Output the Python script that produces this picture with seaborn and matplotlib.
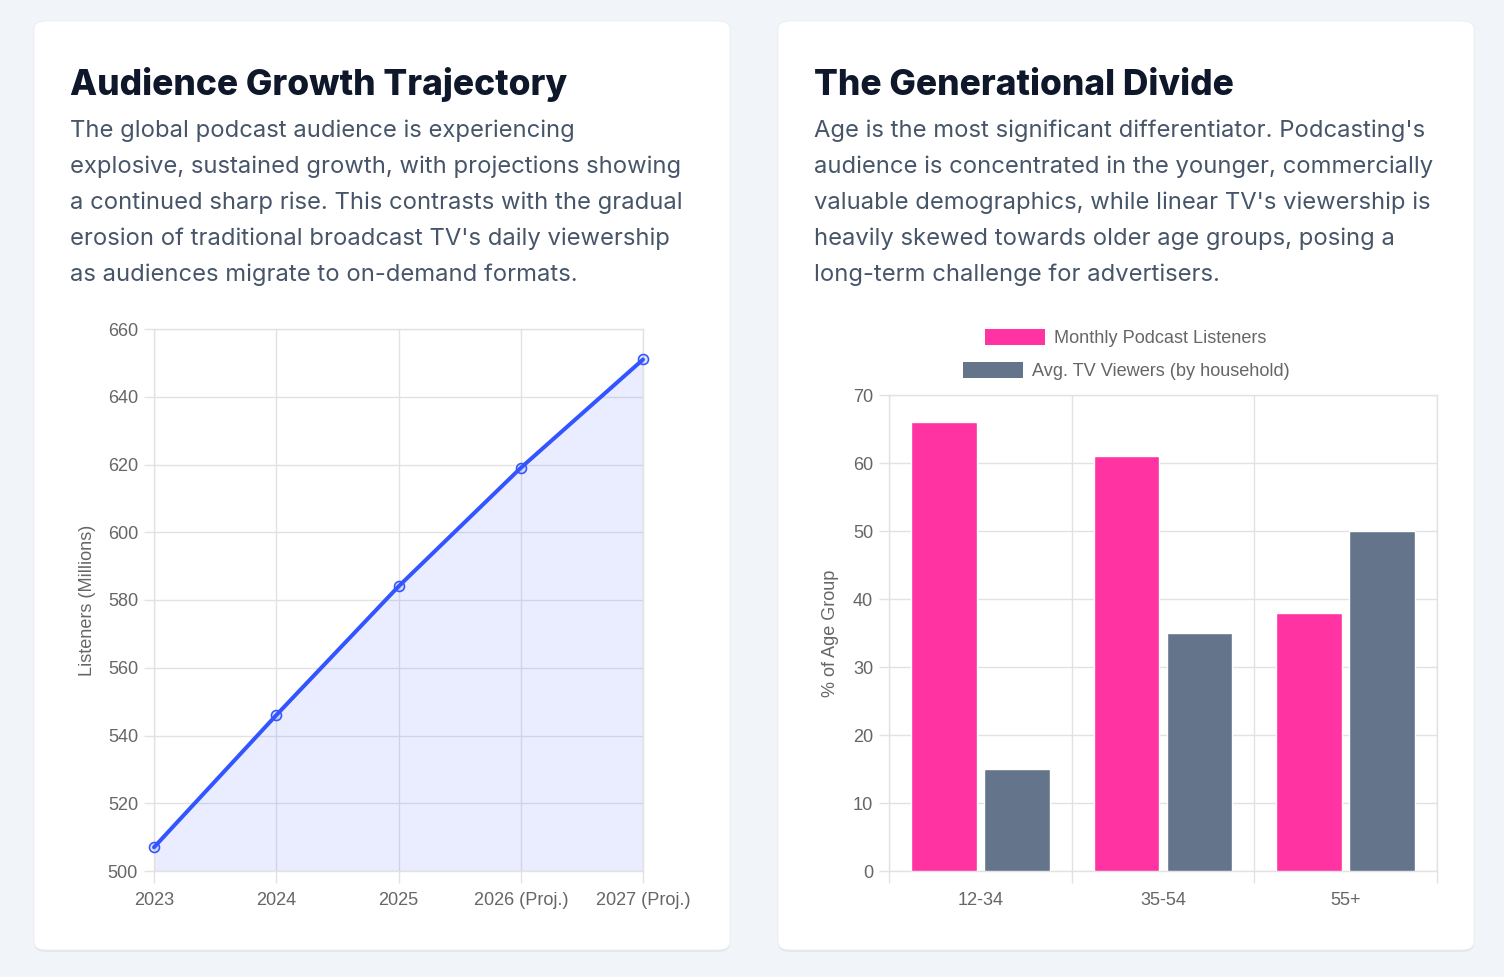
import matplotlib
matplotlib.use("Agg")
import matplotlib.pyplot as plt
from matplotlib.patches import FancyBboxPatch, Patch
import seaborn as sns
import numpy as np
import pandas as pd

# ---------------- data ----------------
years = ["2023", "2024", "2025", "2026 (Proj.)", "2027 (Proj.)"]
listeners = [507, 546, 584, 619, 651]

age_groups = ["12-34", "35-54", "55+"]
podcast_share = [66, 61, 38]
tv_share = [15, 35, 50]
series_names = ["Monthly Podcast Listeners", "Avg. TV Viewers (by household)"]

left_title = "Audience Growth Trajectory"
left_body = [
    "The global podcast audience is experiencing",
    "explosive, sustained growth, with projections showing",
    "a continued sharp rise. This contrasts with the gradual",
    "erosion of traditional broadcast TV's daily viewership",
    "as audiences migrate to on-demand formats.",
]
right_title = "The Generational Divide"
right_body = [
    "Age is the most significant differentiator. Podcasting's",
    "audience is concentrated in the younger, commercially",
    "valuable demographics, while linear TV's viewership is",
    "heavily skewed towards older age groups, posing a",
    "long-term challenge for advertisers.",
]

# ---------------- style ----------------
sns.set_theme(style="white")
plt.rcParams["font.family"] = ["Liberation Sans", "DejaVu Sans"]

W, H = 1504, 977
DPI = 100
fig = plt.figure(figsize=(W / DPI, H / DPI), dpi=DPI)
fig.patch.set_facecolor("#F1F5F9")

def fx(x):
    return x / W

def fy(y):
    return 1 - y / H

def px2pt(p):
    return p * 72 / DPI

# cards
for (x0, x1) in [(34, 730), (778, 1474)]:
    y0, y1 = 21, 950
    shadow = FancyBboxPatch((fx(x0), fy(y1 + 2)), fx(x1 - x0), (y1 - y0) / H,
                            boxstyle="round,pad=0,rounding_size=0.008",
                            transform=fig.transFigure, facecolor="#000000",
                            alpha=0.05, edgecolor="none", zorder=-3)
    fig.patches.append(shadow)
    card = FancyBboxPatch((fx(x0), fy(y1)), fx(x1 - x0), (y1 - y0) / H,
                          boxstyle="round,pad=0,rounding_size=0.008",
                          transform=fig.transFigure, facecolor="white",
                          edgecolor="#E8ECF1", linewidth=0.6, zorder=-2)
    fig.patches.append(card)

# titles and body
def card_text(x, title, lines):
    fig.text(fx(x), fy(95), title, family=["Inter", "DejaVu Sans"], weight=800,
             fontsize=px2pt(35.3), color="#0F172A", va="baseline", ha="left")
    for i, line in enumerate(lines):
        fig.text(fx(x), fy(137 + 36 * i), line, family=["Inter", "DejaVu Sans"],
                 fontsize=px2pt(23.8), color="#475569", va="baseline", ha="left")

card_text(70, left_title, left_body)
card_text(814, right_title, right_body)

grid_c = "#E2E2E2"
tick_c = "#666666"
tick_fs = px2pt(18.2)
line_c = "#3355FF"

# ---------------- left line chart ----------------
axL = fig.add_axes([fx(154), fy(871), fx(643 - 154), (871 - 329) / H])
axL.patch.set_alpha(0)
dfL = pd.DataFrame({"year": years, "listeners": listeners, "pos": np.arange(len(years))})
axL.fill_between(dfL["pos"], 500, dfL["listeners"], color=line_c, alpha=0.10,
                 linewidth=0, zorder=1)
sns.lineplot(data=dfL, x="pos", y="listeners", ax=axL, color=line_c,
             linewidth=px2pt(4), marker="o", markersize=px2pt(10),
             markerfacecolor=(0.2, 0.33, 1.0, 0.15), markeredgecolor=line_c,
             markeredgewidth=px2pt(1.6), zorder=3, clip_on=False)
axL.set_xlim(0, len(years) - 1)
axL.set_ylim(500, 660)
axL.set_xticks(dfL["pos"])
axL.set_xticklabels(years)
axL.set_yticks(np.arange(500, 661, 20))
axL.set_xlabel("")
axL.set_ylabel("Listeners (Millions)", fontsize=tick_fs, color=tick_c, labelpad=px2pt(12))
axL.grid(True, color=grid_c, linewidth=1)
axL.tick_params(axis="y", colors=tick_c, labelsize=tick_fs, length=px2pt(10),
                width=1, color=grid_c, pad=px2pt(6), left=True, direction="out")
axL.tick_params(axis="x", colors=tick_c, labelsize=tick_fs, length=px2pt(12),
                width=1, color=grid_c, pad=px2pt(9), bottom=True, direction="out")
for s in axL.spines.values():
    s.set_color(grid_c)
    s.set_linewidth(1)
axL.set_axisbelow(True)

# ---------------- right bar chart ----------------
axR = fig.add_axes([fx(889), fy(871), fx(1437 - 889), (871 - 395) / H])
axR.patch.set_alpha(0)
dfR = pd.DataFrame({
    "age": age_groups * 2,
    "share": podcast_share + tv_share,
    "series": [series_names[0]] * 3 + [series_names[1]] * 3,
})
palette = {series_names[0]: "#FF33A1", series_names[1]: "#64748B"}
sns.barplot(data=dfR, x="age", y="share", hue="series", hue_order=series_names,
            order=age_groups, palette=palette, ax=axR, width=0.8, gap=0.1,
            saturation=1, legend=False, zorder=3)
axR.set_xlim(-0.5, len(age_groups) - 0.5)
axR.set_ylim(0, 70)
axR.set_yticks(np.arange(0, 71, 10))
axR.set_xlabel("")
axR.set_ylabel("% of Age Group", fontsize=tick_fs, color=tick_c, labelpad=px2pt(14))
axR.set_xticks(np.arange(-0.5, len(age_groups)), minor=True)
axR.grid(True, axis="y", color=grid_c, linewidth=1)
axR.grid(True, axis="x", which="minor", color=grid_c, linewidth=1)
axR.tick_params(axis="x", which="major", length=0, colors=tick_c,
                labelsize=tick_fs, pad=px2pt(21))
axR.tick_params(axis="x", which="minor", length=px2pt(12), width=1, color=grid_c,
                bottom=True, direction="out")
axR.tick_params(axis="y", colors=tick_c, labelsize=tick_fs, length=px2pt(10),
                width=1, color=grid_c, left=True, direction="out", pad=px2pt(6))
for s in axR.spines.values():
    s.set_color(grid_c)
    s.set_linewidth(1)
axR.set_axisbelow(True)

# legend: one centered row per series (like Chart.js)
for i, name in enumerate(series_names):
    h = Patch(facecolor=palette[name], edgecolor="none")
    fig.legend(handles=[h], labels=[name], loc="center",
               bbox_to_anchor=(fx(1126), fy(338 + 33 * i)), frameon=False,
               fontsize=tick_fs, labelcolor=tick_c, handlelength=3.3,
               handleheight=1.0, handletextpad=0.5, borderpad=0, borderaxespad=0)

fig.savefig("out.png", dpi=DPI, facecolor=fig.get_facecolor())
